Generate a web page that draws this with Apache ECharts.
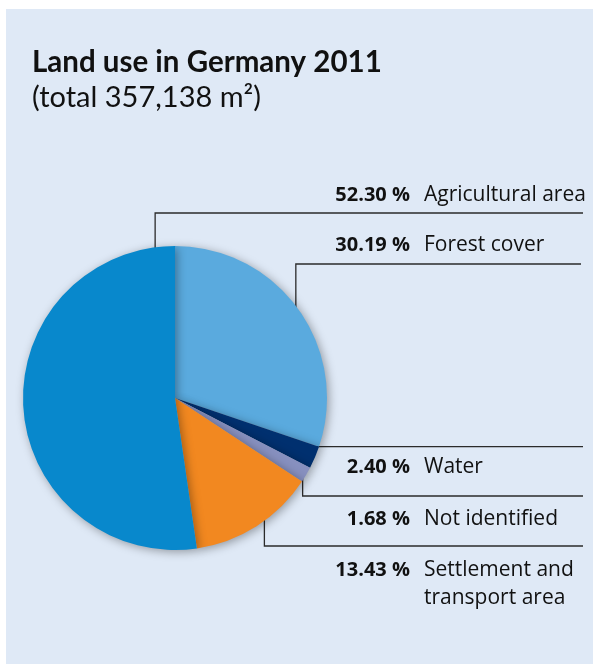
<!DOCTYPE html>
<html>
<head>
<meta charset="utf-8">
<script src="https://cdn.jsdelivr.net/npm/echarts@6/dist/echarts.min.js"></script>
<style>
  html, body { margin: 0; padding: 0; background: #ffffff; }
  #chart { width: 593px; height: 665px; }
</style>
</head>
<body>
<div id="chart"></div>
<script>
// Land use shares, in drawing order clockwise from 12 o'clock
const categories = ['Forest cover', 'Water', 'Not identified', 'Settlement and\ntransport area', 'Agricultural area'];
const shares = [30.19, 2.40, 1.68, 13.43, 52.30];
const sliceColors = ['#5aaade', '#00306f', '#8790bf', '#f28820', '#0888cc'];

// Callout geometry: where each leader starts inside its slice, where it bends and where its text sits
const anchorFrac = [0.55, 0.37, 0.45, 0.36, 0.958];
const anchorRad = [0.92, 0.86, 0.97, 0.93, 0.95];
const elbowY = [264, null, 496, 546, 213];
const lineEndX = [581, 583, 583, 583, 583];
const labelMidY = [245, 467, 519, 570, 195];

const CX = 175, CY = 398, R = 152;
const LINE_H = 28;
const PCT_RIGHT = 410, PCT_BOX = 90, NAME_GAP = 14;
const PCT_FONT = 'bold 20px "Open Sans"';

const total = shares.reduce((a, b) => a + b, 0);
const startDeg = [];
let acc = 0;
shares.forEach(v => { startDeg.push(acc / total * 360); acc += v; });

function anchorPoint(i) {
  const span = shares[i] / total * 360;
  const deg = startDeg[i] + span * anchorFrac[i];
  const rad = deg * Math.PI / 180;
  const r = R * anchorRad[i];
  return [CX + r * Math.sin(rad), CY - r * Math.cos(rad)];
}

function pctText(v) { return v.toFixed(2) + ' %'; }

// Right-align the bold percentage column by padding each figure to a common box width
const measureCtx = document.createElement('canvas').getContext('2d');
measureCtx.font = PCT_FONT;
const textBase = { fontFamily: 'Open Sans', fontSize: 21, fontWeight: 'normal', color: '#111111', lineHeight: LINE_H, align: 'left' };
const rich = {
  n: Object.assign({}, textBase, { padding: [0, 0, 0, NAME_GAP] }),
  m: Object.assign({}, textBase, { padding: [0, 0, 0, PCT_BOX + NAME_GAP] })
};
shares.forEach((v, i) => {
  const w = measureCtx.measureText(pctText(v)).width;
  rich['p' + i] = {
    fontFamily: 'Open Sans', fontSize: 20, fontWeight: 'bold', color: '#111111',
    lineHeight: LINE_H, align: 'left', padding: [0, 0, 0, Math.max(0, PCT_BOX - w)]
  };
});

const chart = echarts.init(document.getElementById('chart'), null, { renderer: 'canvas' });

chart.setOption({
  animation: false,
  backgroundColor: '#ffffff',
  graphic: [{
    type: 'rect',
    z: -10,
    silent: true,
    shape: { x: 6, y: 9, width: 587, height: 655 },
    style: { fill: '#dfe9f6' }
  }],
  title: {
    text: 'Land use in Germany 2011',
    subtext: '(total 357,138 m²)',
    left: 27,
    top: 42,
    itemGap: 6,
    textStyle: { fontFamily: 'Lato', fontWeight: 'bold', fontSize: 29.5, color: '#111111' },
    subtextStyle: { fontFamily: 'Lato', fontWeight: 'normal', fontSize: 29, color: '#111111' }
  },
  series: [{
    type: 'pie',
    center: [CX, CY],
    radius: [0, R],
    startAngle: 90,
    clockwise: true,
    avoidLabelOverlap: false,
    silent: true,
    itemStyle: {
      shadowBlur: 10,
      shadowColor: 'rgba(0, 0, 0, 0.35)',
      shadowOffsetX: 2,
      shadowOffsetY: 2
    },
    data: categories.map((name, i) => ({
      name: name,
      value: shares[i],
      itemStyle: { color: sliceColors[i] }
    })),
    label: {
      show: true,
      position: 'outside',
      fontFamily: 'Open Sans',
      fontSize: 21,
      color: '#111111',
      lineHeight: LINE_H,
      formatter: function (p) {
        const lines = p.name.split('\n');
        let s = '{p' + p.dataIndex + '|' + pctText(p.value) + '}{n|' + lines[0] + '}';
        for (let k = 1; k < lines.length; k++) s += '\n{m|' + lines[k] + '}';
        return s;
      },
      rich: rich
    },
    labelLine: {
      show: true,
      smooth: false,
      lineStyle: { color: '#2b2b2b', width: 1.3 }
    },
    labelLayout: function (params) {
      const i = params.dataIndex;
      const a = anchorPoint(i);
      const yLine = elbowY[i] == null ? a[1] : elbowY[i];
      return {
        x: PCT_RIGHT - PCT_BOX,
        y: labelMidY[i] - LINE_H / 2,
        align: 'left',
        verticalAlign: 'top',
        labelLinePoints: [a, [a[0], yLine], [lineEndX[i], yLine]]
      };
    }
  }]
});
</script>
</body>
</html>
